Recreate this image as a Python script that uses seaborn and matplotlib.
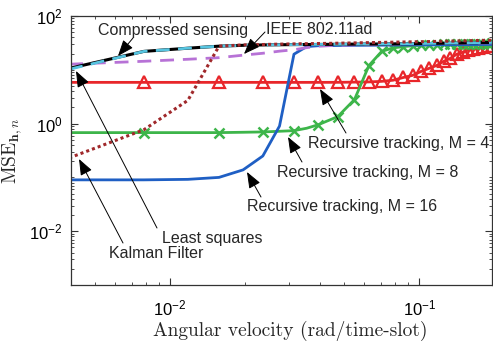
import numpy as np
import pandas as pd
import matplotlib
matplotlib.use("Agg")
import matplotlib.pyplot as plt
import matplotlib.ticker as mticker
import seaborn as sns

# ---------------- data ----------------
angular_velocity = [0.00393, 0.00785, 0.01178, 0.01571, 0.01963, 0.02356, 0.02749,
                    0.03142, 0.03534, 0.03927, 0.04712, 0.05498, 0.06283, 0.07069,
                    0.07854, 0.08639, 0.09425, 0.10210, 0.10996, 0.11781, 0.12566,
                    0.13352, 0.14137, 0.14923, 0.15708, 0.16493, 0.17279, 0.18064,
                    0.18850, 0.19635]

mse_rt_m4 = [5.84, 5.84, 5.84, 5.84, 5.84, 5.84, 5.84, 5.84, 5.84, 5.84,
             5.85, 5.9, 5.95, 6.1, 6.4, 7.2, 7.9, 9.4, 10.7, 12.1,
             14.4, 16.4, 19.5, 21.2, 23.2, 24.2, 25.2, 26.3, 27.5, 28.0]

mse_rt_m8 = [0.68, 0.68, 0.68, 0.68, 0.69, 0.70, 0.72, 0.74, 0.82, 0.95,
             1.35, 2.8, 12.0, 22.0, 25.5, 27.0, 28.0, 28.5, 29.0, 29.3,
             29.6, 29.8, 30.0, 30.2, 30.4, 30.5, 30.6, 30.7, 30.8, 30.9]

mse_rt_m16 = [0.090, 0.090, 0.092, 0.100, 0.138, 0.25, 0.90, 19.5, 27.0, 28.0,
              28.3, 28.5, 28.6, 28.7, 28.8, 28.9, 29.0, 29.0, 29.1, 29.1,
              29.2, 29.2, 29.3, 29.3, 29.4, 29.4, 29.5, 29.5, 29.6, 29.6]

mse_ieee = [12.7, 14.4, 15.7, 16.8, 18.7, 20.3, 22.2, 23.6, 25.8, 27.5,
            28.5, 29.0, 29.4, 29.7, 30.0, 30.2, 30.4, 30.5, 30.6, 30.7,
            30.8, 30.9, 31.0, 31.1, 31.2, 31.3, 31.4, 31.5, 31.6, 31.7]

mse_cs = [10.6, 22.0, 25.2, 27.5, 28.5, 29.0, 29.2, 29.4, 29.5, 29.6,
          29.8, 30.0, 30.1, 30.2, 30.3, 30.5, 30.6, 30.8, 30.9, 31.0,
          31.2, 31.3, 31.4, 31.5, 31.7, 31.8, 31.9, 32.0, 32.1, 32.2]

mse_ls = [10.2, 22.0, 25.2, 27.5, 28.5, 29.0, 29.2, 29.4, 29.5, 29.6,
          29.8, 30.0, 30.1, 30.2, 30.3, 30.5, 30.6, 30.8, 30.9, 31.0,
          31.2, 31.3, 31.4, 31.5, 31.7, 31.8, 31.9, 32.0, 32.1, 32.2]

mse_kalman = [0.23, 0.77, 2.7, 27.5, 29.0, 29.5, 30.0, 30.3, 30.6, 30.8,
              31.2, 31.6, 32.0, 32.3, 32.6, 32.9, 33.1, 33.3, 33.5, 33.7,
              33.9, 34.1, 34.3, 34.5, 34.7, 34.9, 35.0, 35.2, 35.3, 35.5]

marker_idx = [1, 3, 5, 7, 9] + list(range(10, 30))

labels = {
    "cs": "Compressed sensing",
    "ieee": "IEEE 802.11ad",
    "m4": "Recursive tracking, M = 4",
    "m8": "Recursive tracking, M = 8",
    "m16": "Recursive tracking, M = 16",
    "ls": "Least squares",
    "kf": "Kalman Filter",
}

# ---------------- style ----------------
sns.set_style("ticks")
plt.rcParams["font.family"] = ["Liberation Sans", "DejaVu Sans"]
plt.rcParams["mathtext.fontset"] = "cm"
plt.rcParams["xtick.direction"] = "in"
plt.rcParams["ytick.direction"] = "in"
plt.rcParams["xtick.top"] = True
plt.rcParams["ytick.right"] = True

W, H = 493, 341
fig = plt.figure(figsize=(W / 100, H / 100), dpi=100)
ax = fig.add_axes([71 / W, 1 - 285 / H, (492 - 71) / W, (285 - 16) / H])

df = pd.DataFrame({"x": angular_velocity, "m4": mse_rt_m4, "m8": mse_rt_m8,
                   "m16": mse_rt_m16, "ieee": mse_ieee, "cs": mse_cs,
                   "ls": mse_ls, "kf": mse_kalman})

RED, GREEN = "#e8262a", "#3db54a"
sns.lineplot(data=df, x="x", y="m4", ax=ax, color=RED, lw=2.0,
             marker="^", markersize=9, markerfacecolor="none",
             markeredgecolor=RED, markeredgewidth=1.6,
             markevery=marker_idx, sort=False, label="m4", legend=False)
sns.lineplot(data=df, x="x", y="m8", ax=ax, color=GREEN, lw=2.0,
             marker="x", markersize=7, markeredgewidth=1.8, markeredgecolor=GREEN,
             markevery=marker_idx, sort=False, label="m8", legend=False)
sns.lineplot(data=df, x="x", y="m16", ax=ax, color="#1f5fc4", lw=2.0, sort=False,
             label="m16", legend=False)
sns.lineplot(data=df, x="x", y="ieee", ax=ax, color="#b772d6", lw=2.0,
             sort=False, label="ieee", legend=False)
sns.lineplot(data=df, x="x", y="cs", ax=ax, color="black", lw=2.2, sort=False,
             label="cs", legend=False)
sns.lineplot(data=df, x="x", y="ls", ax=ax, color="#56c4e0", lw=2.0, sort=False,
             label="ls", legend=False)
sns.lineplot(data=df, x="x", y="kf", ax=ax, color="#a0282b", lw=2.2, sort=False,
             label="kf", legend=False)

dash_map = {"ieee": (5, 3.2), "ls": (5, 3), "kf": (1.0, 1.0)}
for ln in ax.lines:
    lab = ln.get_label()
    if lab in dash_map:
        ln.set_dashes(dash_map[lab])
    else:
        ln.set_linestyle("-")
if ax.get_legend() is not None:
    ax.get_legend().remove()

ax.set_xscale("log")
ax.set_yscale("log")
ax.set_xlim(0.004, 0.196)
ax.set_ylim(1e-3, 1e2)

ax.yaxis.set_major_locator(mticker.FixedLocator([1e-2, 1e0, 1e2]))
ax.yaxis.set_minor_locator(mticker.LogLocator(base=10, subs=np.arange(1, 10), numticks=20))
ax.yaxis.set_minor_formatter(mticker.NullFormatter())
ax.xaxis.set_major_locator(mticker.FixedLocator([1e-2, 1e-1]))
ax.xaxis.set_minor_locator(mticker.LogLocator(base=10, subs=np.arange(2, 10), numticks=20))
ax.xaxis.set_minor_formatter(mticker.NullFormatter())
ax.xaxis.set_major_formatter(mticker.LogFormatterMathtext())
ax.yaxis.set_major_formatter(mticker.LogFormatterMathtext())

ax.tick_params(which="major", length=5, width=0.8, labelsize=12, colors="#333333",
               labelcolor="black", pad=6)
ax.tick_params(axis="x", which="major", pad=9.5)
ax.tick_params(which="minor", length=2.5, width=0.6, colors="#333333")
for s in ax.spines.values():
    s.set_color("#333333")
    s.set_linewidth(0.9)

ax.set_xlabel("Angular velocity (rad/time-slot)", family="cmr10", fontsize=14)
ax.xaxis.set_label_coords((290 - 71) / 421, -(321 - 285) / 269)
ax.set_ylabel(r"$\mathrm{MSE}_{\mathbf{h},n}$", fontsize=14, labelpad=4)


def fp(px, py):
    return (px / W, 1 - py / H)


texts = [
    ("cs", 98, 31), ("ieee", 266, 30), ("m4", 308, 143), ("m8", 277, 172),
    ("m16", 247, 207), ("ls", 162, 238), ("kf", 109, 253),
]
for key, px, py in texts:
    fig.text(*fp(px, py), labels[key], ha="left", va="center", fontsize=11.5)

arrows = [
    ((133, 38), (118, 56)),
    ((265, 32), (244, 54)),
    ((346, 133), (320, 89)),
    ((302, 162), (288, 137)),
    ((261, 197), (247, 172)),
    ((157, 228), (76, 71)),
    ((123, 243), (79, 159)),
]
for tail, tip in arrows:
    ax.annotate("", xy=fp(*tip), xycoords="figure fraction",
                xytext=fp(*tail), textcoords="figure fraction",
                arrowprops=dict(arrowstyle="-|>,head_length=0.9,head_width=0.35",
                                color="black", lw=0.7, mutation_scale=11,
                                shrinkA=0, shrinkB=0))

ax.set_facecolor("white")
fig.patch.set_facecolor("white")
fig.savefig("out.png", dpi=100)
